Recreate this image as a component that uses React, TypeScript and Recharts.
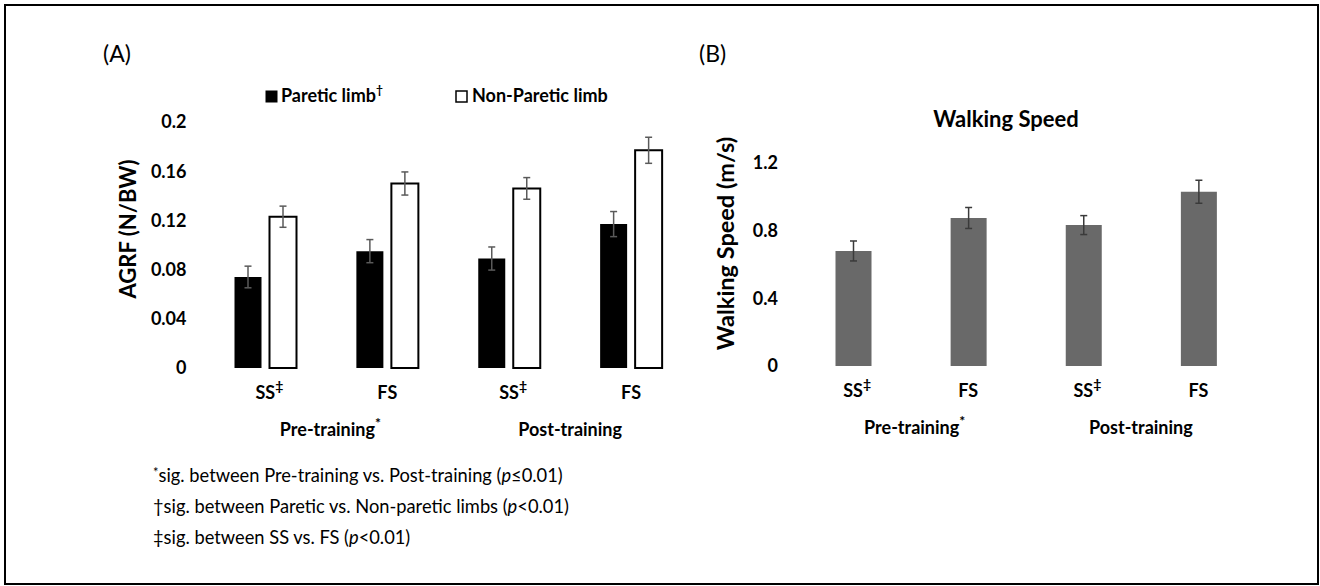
import React from 'react';
import { BarChart, Bar, XAxis, YAxis, ErrorBar, Legend } from 'recharts';

// ---------- data ----------
const conditions = ['SS', 'FS', 'SS', 'FS'];
const conditionMarks = ['‡', '', '‡', ''];
const phases = ['Pre-training', 'Post-training'];
const phaseMarks = ['*', ''];
const phasePositions = [0.5, 2.5];

const seriesNames = ['Paretic limb', 'Non-Paretic limb'];
const seriesMarks = ['†', ''];

const pareticAGRF = [0.074, 0.095, 0.089, 0.117];
const pareticErr = [0.0088, 0.0094, 0.0094, 0.0102];
const nonPareticAGRF = [0.123, 0.150, 0.146, 0.177];
const nonPareticErr = [0.0086, 0.0094, 0.0088, 0.0106];

const walkingSpeed = [0.68, 0.875, 0.833, 1.03];
const walkingSpeedErr = [0.059, 0.062, 0.056, 0.068];

const agrfTicks = [0, 0.04, 0.08, 0.12, 0.16, 0.2];
const speedTicks = [0, 0.4, 0.8, 1.2];

const footnotes = [
  { mark: '*', sup: true, text: 'sig. between Pre-training vs. Post-training (', p: 'p', rest: '≤0.01)' },
  { mark: '†', sup: false, text: 'sig. between Paretic vs. Non-paretic limbs (', p: 'p', rest: '<0.01)' },
  { mark: '‡', sup: false, text: 'sig. between SS vs. FS (', p: 'p', rest: '<0.01)' },
];

const dataA = conditions.map((c, i) => ({
  i,
  paretic: pareticAGRF[i],
  pErr: pareticErr[i],
  nonParetic: nonPareticAGRF[i],
  npErr: nonPareticErr[i],
}));

const dataB = conditions.map((c, i) => ({
  i,
  speed: walkingSpeed[i],
  sErr: walkingSpeedErr[i],
}));

const FONT = 'Lato, "Open Sans", sans-serif';

// ---------- ticks ----------
const CondTick = (props: any) => {
  const { x, y, payload } = props;
  const i = Number(payload.value);
  const mark = conditionMarks[i];
  return (
    <text x={x + (mark ? 4 : 0)} y={y + 31} textAnchor="middle" fontFamily={FONT} fontWeight={700} fontSize={18} fill="#000">
      {conditions[i]}
      {mark ? <tspan dy={-8} fontSize={14}>{mark}</tspan> : null}
    </text>
  );
};

const PhaseTick = (props: any) => {
  const { x, y, payload } = props;
  const k = phasePositions.indexOf(Number(payload.value));
  if (k < 0) return null;
  const mark = phaseMarks[k];
  return (
    <text x={x + (mark ? 4 : 0)} y={y + 28} textAnchor="middle" fontFamily={FONT} fontWeight={700} fontSize={18} fill="#000">
      {phases[k]}
      {mark ? <tspan dy={-8} fontSize={14}>{mark}</tspan> : null}
    </text>
  );
};

const YTick = (props: any) => {
  const { x, y, payload } = props;
  return (
    <text x={x} y={y} dy="0.36em" textAnchor="end" fontFamily={FONT} fontWeight={700} fontSize={18} fill="#000">
      {String(payload.value)}
    </text>
  );
};

const YTitle = (props: any) => {
  const { cx, cy, text, size } = props;
  return (
    <text
      x={cx}
      y={cy}
      transform={`rotate(-90, ${cx}, ${cy})`}
      textAnchor="middle"
      dominantBaseline="central"
      fontFamily={FONT}
      fontWeight={700}
      fontSize={size}
      fill="#000"
    >
      {text}
    </text>
  );
};

const LegendContent = () => (
  <svg width={420} height={30} style={{ overflow: 'visible', display: 'block' }}>
    <rect x={1} y={9} width={11} height={11} fill="#000" stroke="#000" strokeWidth={1} />
    <text x={16} y={20} fontFamily={FONT} fontWeight={700} fontSize={18} fill="#000">
      {seriesNames[0]}
      <tspan dy={-8} fontSize={12}>{seriesMarks[0]}</tspan>
    </text>
    <rect x={191} y={9} width={11} height={11} fill="#fff" stroke="#000" strokeWidth={1.5} />
    <text x={207} y={20} fontFamily={FONT} fontWeight={700} fontSize={18} fill="#000">
      {seriesNames[1]}
    </text>
  </svg>
);

const phaseAxis = (
  <XAxis
    xAxisId="phase"
    dataKey="i"
    type="number"
    domain={[-0.5, 3.5]}
    ticks={phasePositions}
    allowDataOverflow
    axisLine={false}
    tickLine={false}
    tickSize={0}
    tickMargin={0}
    height={40}
    tick={<PhaseTick />}
    interval={0}
  />
);

export default function App() {
  return (
    <div
      style={{
        position: 'absolute',
        left: 0,
        top: 0,
        width: 1320,
        height: 586,
        background: '#fff',
        overflow: 'hidden',
      }}
    >
      {/* outer frame */}
      <div
        style={{
          position: 'absolute',
          left: 4,
          top: 4,
          width: 1315,
          height: 581,
          border: '2px solid #000',
          boxSizing: 'border-box',
        }}
      />

      {/* Panel A */}
      <div style={{ position: 'absolute', left: 0, top: 0 }}>
        <BarChart
          width={700}
          height={586}
          data={dataA}
          margin={{ top: 122, right: 8, bottom: 138, left: 104.5 }}
          barSize={27}
          barGap={8}
        >
          <XAxis
            xAxisId="cond"
            dataKey="i"
            type="category"
            axisLine={false}
            tickLine={false}
            tickSize={0}
            tickMargin={0}
            height={40}
            tick={<CondTick />}
            interval={0}
          />
          {phaseAxis}
          <YAxis
            type="number"
            domain={[0, 0.2]}
            ticks={agrfTicks}
            width={100}
            axisLine={false}
            tickLine={false}
            tickSize={0}
            tickMargin={18}
            tick={<YTick />}
            interval={0}
            label={<YTitle cx={127} cy={229} size={22} text="AGRF (N/BW)" />}
          />
          <Legend
            layout="horizontal"
            verticalAlign="middle"
            align="center"
            wrapperStyle={{ position: 'absolute', left: 265, top: 82, width: 420, height: 30 }}
            content={() => <LegendContent />}
          />
          <Bar xAxisId="cond" dataKey="paretic" name={seriesNames[0]} fill="#000" isAnimationActive={false}>
            <ErrorBar dataKey="pErr" width={3.5} stroke="#5a5a5a" strokeWidth={1.5} />
          </Bar>
          <Bar
            xAxisId="cond"
            dataKey="nonParetic"
            name={seriesNames[1]}
            fill="#fff"
            stroke="#000"
            strokeWidth={2}
            isAnimationActive={false}
          >
            <ErrorBar dataKey="npErr" width={3.5} stroke="#5a5a5a" strokeWidth={1.5} />
          </Bar>
        </BarChart>
      </div>

      {/* Panel B */}
      <div style={{ position: 'absolute', left: 680, top: 0 }}>
        <BarChart
          width={640}
          height={586}
          data={dataB}
          margin={{ top: 163, right: 64, bottom: 140, left: 15.5 }}
          barSize={36}
        >
          <XAxis
            xAxisId="cond"
            dataKey="i"
            type="category"
            axisLine={false}
            tickLine={false}
            tickSize={0}
            tickMargin={0}
            height={40}
            tick={<CondTick />}
            interval={0}
          />
          {phaseAxis}
          <YAxis
            type="number"
            domain={[0, 1.2]}
            ticks={speedTicks}
            width={100}
            axisLine={false}
            tickLine={false}
            tickSize={0}
            tickMargin={17.5}
            tick={<YTick />}
            interval={0}
            label={<YTitle cx={44.5} cy={243.5} size={23.5} text="Walking Speed (m/s)" />}
          />
          <Bar xAxisId="cond" dataKey="speed" name="Walking Speed" fill="#696969" isAnimationActive={false}>
            <ErrorBar dataKey="sErr" width={3.5} stroke="#3a3a3a" strokeWidth={1.5} />
          </Bar>
        </BarChart>
      </div>

      {/* text overlay */}
      <svg
        width={1320}
        height={586}
        style={{ position: 'absolute', left: 0, top: 0, pointerEvents: 'none' }}
      >
        <text x={103} y={62} fontFamily={FONT} fontSize={23} fill="#000">(A)</text>
        <text x={699} y={62} fontFamily={FONT} fontSize={23} fill="#000">(B)</text>
        <text x={1006} y={127} textAnchor="middle" fontFamily={FONT} fontWeight={700} fontSize={22} fill="#000">
          Walking Speed
        </text>
        {footnotes.map((f, k) => (
          <text key={k} x={153} y={482 + k * 31} fontFamily={FONT} fontSize={18.3} fill="#000">
            {f.sup ? (
              <tspan dy={-5} fontSize={13}>{f.mark}</tspan>
            ) : (
              <tspan>{f.mark}</tspan>
            )}
            <tspan dy={f.sup ? 5 : 0}>{f.text}</tspan>
            <tspan fontStyle="italic">{f.p}</tspan>
            <tspan>{f.rest}</tspan>
          </text>
        ))}
      </svg>
    </div>
  );
}
